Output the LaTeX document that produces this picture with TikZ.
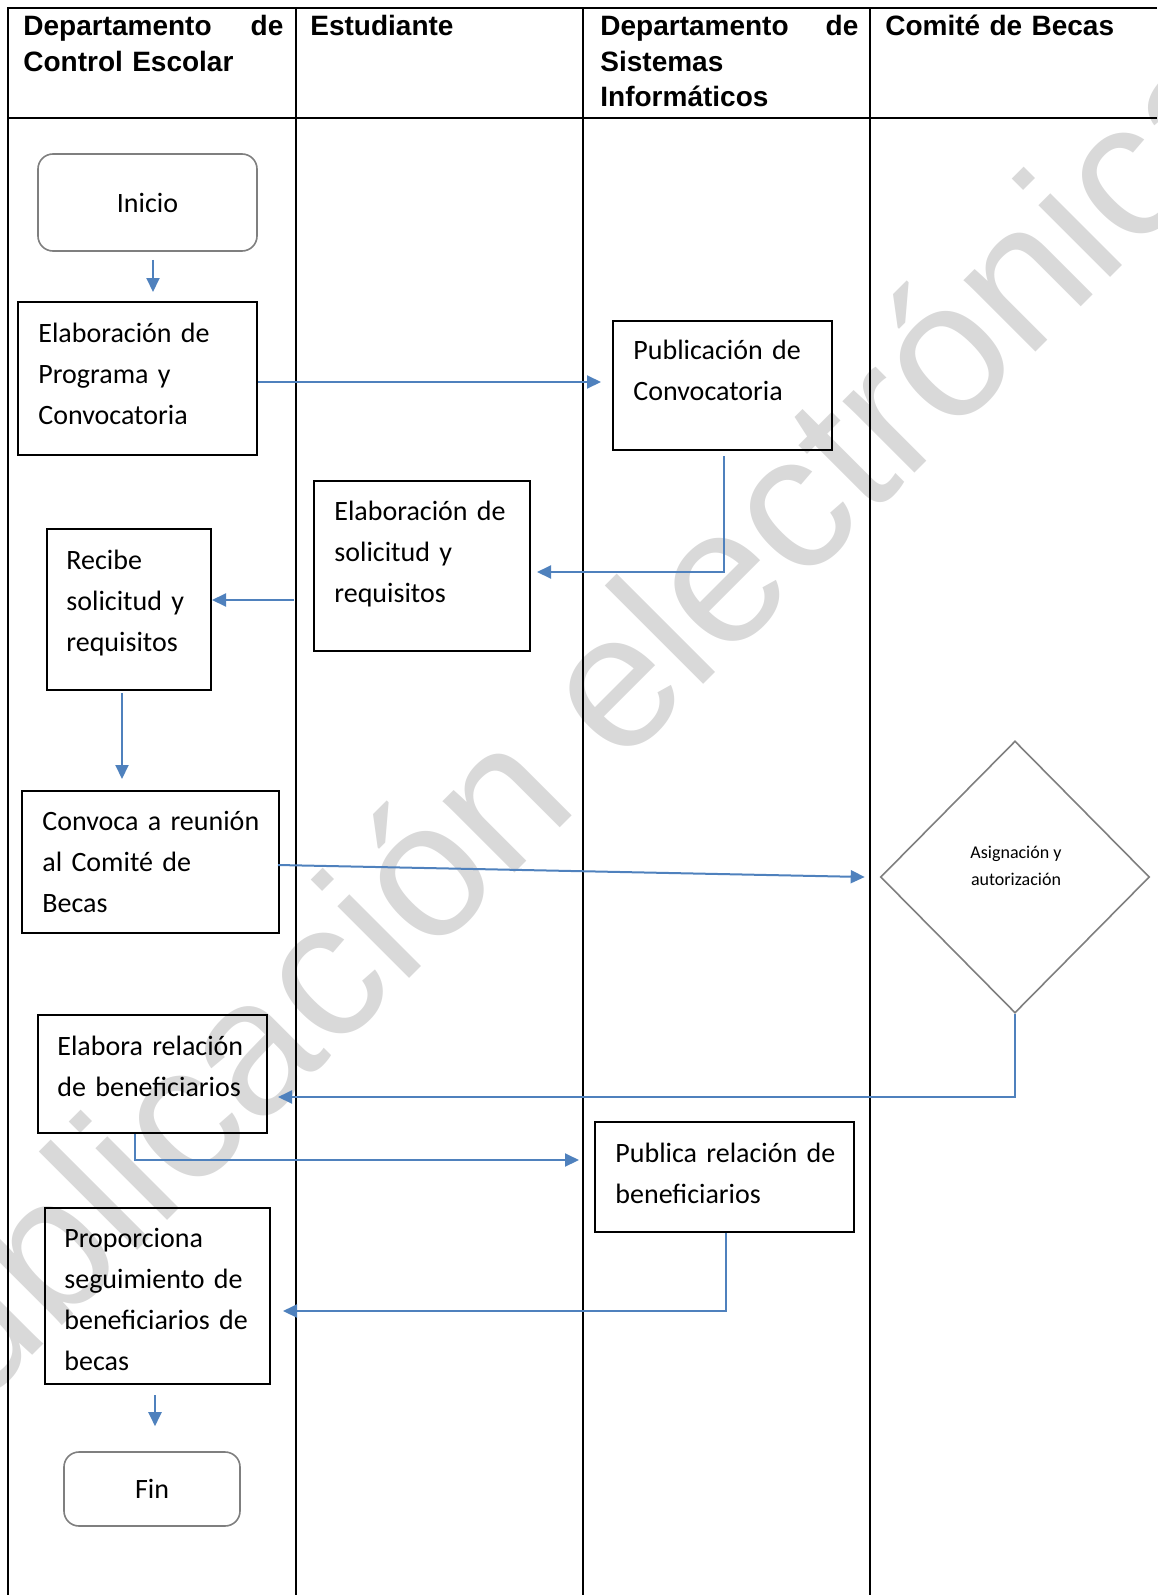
\documentclass[tikz,border=0pt]{standalone}
\usepackage{fontspec}
\setmainfont{Carlito}
\newfontfamily\hdrfont{Liberation Sans}
\newfontfamily\wmfont{Liberation Sans}
\usetikzlibrary{arrows.meta,calc,fit,shapes.geometric}
\definecolor{arrowblue}{HTML}{4F81BD}
\definecolor{wmgray}{HTML}{D9D9D9}
\definecolor{shapegray}{HTML}{7F7F7F}
\begin{document}
\begin{tikzpicture}[x=0.5pt,y=-0.5pt,
  lane/.style={draw=black, line width=0.8pt},
  box/.style={draw=black, line width=1pt, inner sep=0pt, rectangle},
  term/.style={draw=shapegray, line width=0.8pt, rounded corners=7.5pt, inner sep=0pt, rectangle, font=\fontsize{14pt}{20.5pt}\selectfont},
  txt/.style={inner sep=0pt, anchor=base west, text width=130pt, align=left, font=\fontsize{14pt}{20.5pt}\selectfont},
  hdr/.style={inner sep=0pt, anchor=base west, text width=135pt, align=left, font=\hdrfont\bfseries\fontsize{14pt}{17.75pt}\selectfont},
  arr/.style={draw=arrowblue, line width=1pt, -{Triangle[length=7pt,width=6.5pt]}},
]
\useasboundingbox (0,0) rectangle (1157,1595);
\begin{scope}
\clip (0,0) rectangle (1157,1595);
% watermark
\node[font=\wmfont\fontsize{96pt}{96pt}\selectfont, text=wmgray, rotate=45, anchor=base west, inner sep=0pt] (wm) at (-113,1501) {Publicación electrónica};
\end{scope}

% swimlane frame
\draw[lane] (1157,8) -- (8,8) -- (8,1595);
\draw[lane] (8,118) -- (1157,118);
\draw[lane] (296,8) -- (296,1595);
\draw[lane] (583,8) -- (583,1595);
\draw[lane] (870,8) -- (870,1595);

% headers
\node[hdr] (h1) at (23,36) {\makebox[130pt][l]{Departamento\hfill de}\\Control Escolar};
\node[hdr] (h2) at (310,36) {Estudiante};
\node[hdr] (h3) at (600,36) {\makebox[129pt][l]{Departamento\hfill de}\\Sistemas\\Informáticos};
\node[hdr] (h4) at (885,36) {Comité de Becas};

% terminals
\node[term, minimum width=109.5pt, minimum height=48.5pt] (inicio) at (147.5,202.5) {Inicio};
\node[term, minimum width=88pt, minimum height=37pt] (fin) at (152,1489) {Fin};

% process boxes
\node[box, fit={(18,302)(257,455)}] (elab) {};
\node[txt] (elabT) at (38,342) {Elaboración de\\Programa y\\Convocatoria};
\node[box, fit={(613,321)(832,450)}] (pub) {};
\node[txt] (pubT) at (633,359) {Publicación de\\Convocatoria};
\node[box, fit={(314,481)(530,651)}] (sol) {};
\node[txt] (solT) at (334,520) {Elaboración de\\solicitud y\\requisitos};
\node[box, fit={(47,529)(211,690)}] (rec) {};
\node[txt] (recT) at (66,569) {Recibe\\solicitud y\\requisitos};
\node[box, fit={(22,791)(279,933)}] (conv) {};
\node[txt] (convT) at (42,830) {Convoca a reunión\\al Comité de\\Becas};
\node[box, fit={(38,1015)(267,1133)}] (elabrel) {};
\node[txt] (elabrelT) at (57,1055) {Elabora relación\\de beneficiarios};
\node[box, fit={(595,1122)(854,1232)}] (pubrel) {};
\node[txt] (pubrelT) at (615,1162) {Publica relación de\\beneficiarios};
\node[box, fit={(45,1208)(270,1384)}] (prop) {};
\node[txt] (propT) at (64,1247) {Proporciona\\seguimiento de\\beneficiarios de\\becas};

% decision
\node[diamond, draw=shapegray, line width=0.8pt, minimum width=134.5pt, minimum height=136pt, inner sep=0pt] (dia) at (1015,877) {};
\node[align=center, inner sep=0pt, font=\fontsize{9pt}{13.5pt}\selectfont] (diaT) at (1016,866) {Asignación y\\autorización};

% connectors
\draw[arr] ($(inicio.south)+(5.5,8)$) -- ($(elab.north)+(15.5,-9)$);
\draw[arr] ($(elab.east)+(0,3.5)$) -- ($(pub.west)+(-11,-3.5)$);
\draw[arr] ($(pub.south)+(1.5,5)$) |- ($(sol.east)+(6,6)$);
\draw[arr] ($(sol.west)+(-19,34)$) -- ($(rec.east)+(0,-9.5)$);
\draw[arr] ($(rec.south)+(-7,2)$) -- ($(conv.north)+(-28.5,-11)$);
\draw[arr] ($(conv.east)+(-2,3)$) -- ($(dia.west)+(-15,0)$);
\draw[arr] (dia.south) |- ($(elabrel.east)+(10,23)$);
\draw[arr] ($(elabrel.south)+(-17.5,0)$) |- ($(pubrel.west)+(-15,-17)$);
\draw[arr] ($(pubrel.south)+(1.5,0)$) |- ($(prop.east)+(12,15)$);
\draw[arr] ($(prop.south)+(-2.5,10)$) -- ($(fin.north)+(3,-25)$);
\end{tikzpicture}
\end{document}
